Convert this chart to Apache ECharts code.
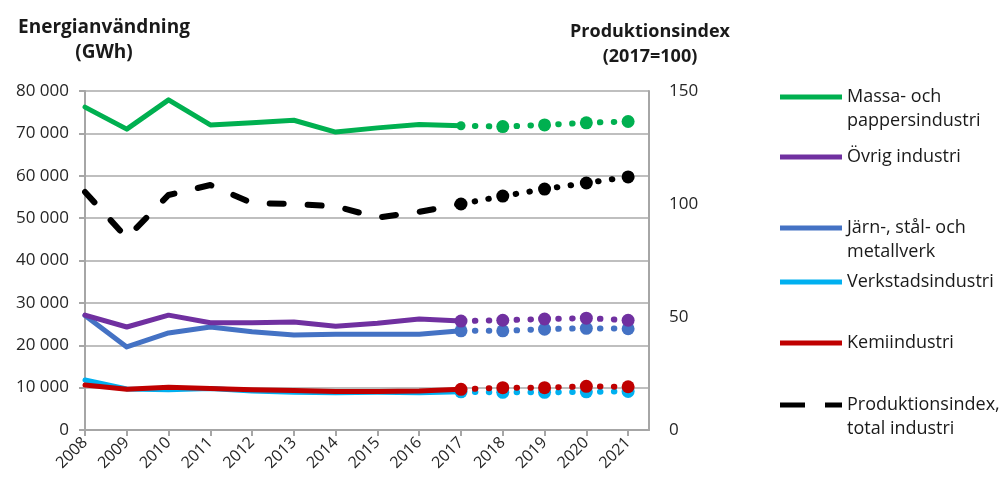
<!DOCTYPE html>
<html>
<head>
<meta charset="utf-8">
<script src="https://cdn.jsdelivr.net/npm/echarts@6/dist/echarts.min.js"></script>
<style>
  html, body { margin: 0; padding: 0; background: #fff; }
  #main { width: 1003px; height: 486px; }
</style>
</head>
<body>
<div id="main"></div>
<script>
// years on the x axis, 2017 is the last observed year, after that forecast
const years = [2008, 2009, 2010, 2011, 2012, 2013, 2014, 2015, 2016, 2017, 2018, 2019, 2020, 2021];
const lastActual = 2017;

// energy use, GWh (left axis)
const massa = [76200, 71000, 77900, 72000, 72500, 73100, 70300, 71300, 72100, 71800, 71600, 72000, 72500, 72800];
const ovrig = [27100, 24300, 27100, 25300, 25300, 25500, 24500, 25200, 26200, 25700, 25900, 26200, 26400, 25900];
const jarn = [27000, 19600, 22900, 24300, 23200, 22400, 22600, 22600, 22600, 23400, 23400, 23800, 24000, 23900];
const verkstad = [11800, 9700, 9500, 9800, 9200, 8900, 8800, 8900, 8800, 9000, 8900, 8900, 9000, 9100];
const kemi = [10600, 9600, 10100, 9800, 9500, 9300, 9100, 9100, 9200, 9600, 10000, 10000, 10300, 10200];

// production index, 2017=100 (right axis)
const prodIndex = [105.3, 85, 104, 108.4, 100.4, 100, 99, 94, 96.5, 100, 103.5, 106.6, 109.3, 112];

const leftTicks = [0, 10000, 20000, 30000, 40000, 50000, 60000, 70000, 80000];
const rightTicks = [0, 50, 100, 150];

const font = '"Open Sans", Lato, sans-serif';

const chart = echarts.init(document.getElementById('main'));

function pairs(values, from, to) {
  return years
    .map((y, i) => [y, values[i]])
    .filter(p => p[0] >= from && p[0] <= to);
}

function spaced(v) {
  return String(v).replace(/\B(?=(\d{3})+(?!\d))/g, ' ');
}

function makeSeries(name, color, values, axis, dashed, z, smallJoin) {
  return [
    {
      name: name,
      type: 'line',
      yAxisIndex: axis,
      data: pairs(values, years[0], lastActual),
      symbol: 'none',
      z: z,
      lineStyle: {
        color: color,
        width: dashed ? 6 : 5,
        type: dashed ? [14, 24] : 'solid',
        cap: 'round',
        join: 'round'
      },
      itemStyle: { color: color }
    },
    {
      // forecast part, kept out of the legend
      name: name + ' (prognos)',
      type: 'line',
      yAxisIndex: axis,
      data: pairs(values, lastActual, years[years.length - 1]),
      symbol: 'circle',
      symbolSize: v => (smallJoin && v[0] === lastActual ? 9 : 13),
      z: z,
      lineStyle: {
        color: color,
        width: 6,
        type: [0.5, 13.4],
        cap: 'round'
      },
      itemStyle: { color: color }
    }
  ];
}

let series = [].concat(
  makeSeries('Produktionsindex,\ntotal industri', '#000000', prodIndex, 1, true, 3),
  makeSeries('Verkstadsindustri', '#00b0f0', verkstad, 0, false, 4),
  makeSeries('Kemiindustri', '#c00000', kemi, 0, false, 5),
  makeSeries('Järn-, stål- och\nmetallverk', '#4472c4', jarn, 0, false, 6),
  makeSeries('Övrig industri', '#7030a0', ovrig, 0, false, 7),
  makeSeries('Massa- och\npappersindustri', '#00b050', massa, 0, false, 8, true)
);

const solidIcon = 'path://M0,0H62V5H0Z';
const dashIcon = 'path://M0,0H25V5H0Z M45,0H62V5H45Z';

// one legend block per entry, so the uneven spacing of the original can be kept
// two-line names get a blank line on top so the icon sits beside the first line
function legendAt(name, top, twoLines, icon) {
  return {
    data: [name],
    left: 780,
    top: top,
    padding: 0,
    icon: icon || solidIcon,
    itemWidth: 62,
    itemHeight: 5,
    selectedMode: false,
    itemStyle: { borderWidth: 0 },
    lineStyle: { opacity: 0 },
    formatter: n => (twoLines ? '\u00a0\n' + n : n),
    textStyle: {
      fontFamily: font,
      fontSize: 18,
      color: '#1a1a1a',
      lineHeight: 24
    }
  };
}

let option = {
  animation: false,
  textStyle: { fontFamily: font },
  title: [
    {
      text: 'Energianvändning\n(GWh)',
      left: 99,
      top: 10,
      textAlign: 'center',
      textStyle: { fontFamily: font, fontSize: 19, fontWeight: 'bold', color: '#1a1a1a', lineHeight: 25 }
    },
    {
      text: 'Produktionsindex\n(2017=100)',
      left: 645,
      top: 14,
      textAlign: 'center',
      textStyle: { fontFamily: font, fontSize: 18, fontWeight: 'bold', color: '#1a1a1a', lineHeight: 25 }
    }
  ],
  legend: [
    legendAt('Massa- och\npappersindustri', 61, true),
    legendAt('Övrig industri', 145, false),
    legendAt('Järn-, stål- och\nmetallverk', 192, true),
    legendAt('Verkstadsindustri', 270, false),
    legendAt('Kemiindustri', 331, false),
    legendAt('Produktionsindex,\ntotal industri', 369, true, dashIcon)
  ],
  grid: {
    left: 85,
    right: 354,
    top: 91,
    bottom: 56
  },
  xAxis: {
    type: 'value',
    min: years[0],
    max: years[years.length - 1] + 0.5,
    interval: 1,
    splitLine: { show: false },
    axisLine: { lineStyle: { color: '#a6a6a6', width: 2 } },
    axisTick: { length: 6, lineStyle: { color: '#a6a6a6', width: 2 } },
    axisLabel: {
      rotate: 45,
      showMaxLabel: false,
      color: '#262626',
      fontSize: 16,
      fontFamily: font,
      margin: 10,
      formatter: v => (years.indexOf(v) >= 0 ? String(v) : '')
    }
  },
  yAxis: [
    {
      type: 'value',
      min: leftTicks[0],
      max: leftTicks[leftTicks.length - 1],
      interval: 10000,
      axisLine: { show: true, lineStyle: { color: '#a6a6a6', width: 2 } },
      axisTick: { show: true, length: 6, lineStyle: { color: '#a6a6a6', width: 2 } },
      splitLine: { lineStyle: { color: '#bfbfbf', width: 2 } },
      axisLabel: {
        color: '#262626',
        fontSize: 17,
        fontFamily: font,
        margin: 16,
        formatter: v => spaced(v)
      }
    },
    {
      type: 'value',
      position: 'right',
      min: rightTicks[0],
      max: rightTicks[rightTicks.length - 1],
      interval: 50,
      axisLine: { show: true, lineStyle: { color: '#a6a6a6', width: 2 } },
      axisTick: { show: false },
      splitLine: { show: false },
      axisLabel: {
        color: '#262626',
        fontSize: 17,
        fontFamily: font,
        margin: 20
      }
    }
  ],
  series: series
};

chart.setOption(option);
</script>
</body>
</html>
